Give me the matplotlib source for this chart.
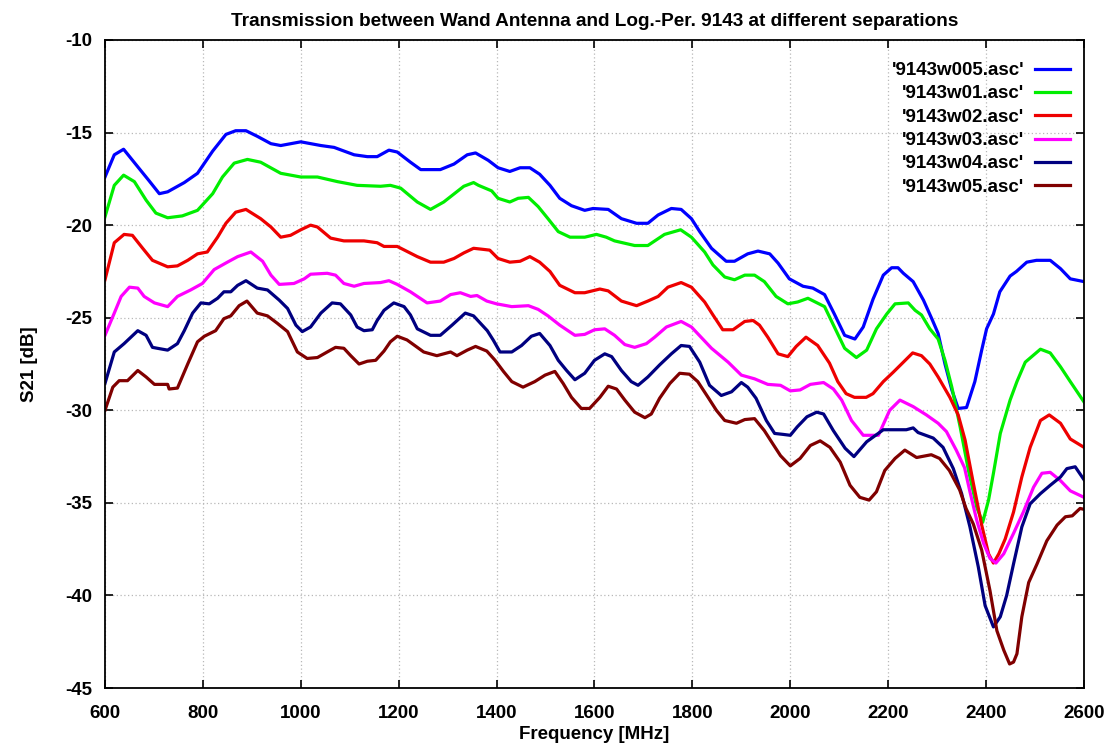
import matplotlib
matplotlib.use("Agg")
import matplotlib.pyplot as plt

# S21 traces, (frequency MHz, S21 dB)
w005 = [(600, -17.4), (619, -16.2), (638, -15.9), (667, -16.85), (690, -17.6), (711, -18.3),
        (728, -18.2), (762, -17.7), (789, -17.2), (820, -16.0), (847, -15.1), (867, -14.9),
        (888, -14.9), (911, -15.2), (939, -15.6), (959, -15.7), (1000, -15.5), (1041, -15.7),
        (1068, -15.8), (1109, -16.2), (1136, -16.3), (1156, -16.3), (1180, -15.95), (1197, -16.05),
        (1224, -16.6), (1245, -17.0), (1285, -17.0), (1313, -16.7), (1340, -16.2), (1357, -16.1),
        (1383, -16.5), (1403, -16.9), (1427, -17.1), (1448, -16.9), (1468, -16.9), (1488, -17.25),
        (1509, -17.85), (1529, -18.55), (1553, -18.95), (1580, -19.2), (1597, -19.1), (1628, -19.15),
        (1655, -19.65), (1686, -19.9), (1709, -19.9), (1730, -19.45), (1757, -19.1), (1777, -19.15),
        (1798, -19.65), (1815, -20.35), (1839, -21.25), (1869, -21.95), (1886, -21.95), (1913, -21.55),
        (1934, -21.4), (1958, -21.55), (1975, -22.05), (1998, -22.9), (2026, -23.3), (2046, -23.4),
        (2070, -23.75), (2090, -24.8), (2111, -25.95), (2132, -26.15), (2149, -25.5), (2169, -24.0),
        (2190, -22.7), (2207, -22.3), (2220, -22.3), (2231, -22.6), (2251, -23.05), (2272, -24.05),
        (2289, -25.05), (2302, -25.85), (2316, -27.5), (2330, -28.9), (2343, -29.9), (2360, -29.85),
        (2377, -28.45), (2391, -26.75), (2401, -25.6), (2415, -24.8), (2428, -23.6), (2449, -22.75),
        (2462, -22.5), (2483, -22.0), (2503, -21.9), (2531, -21.9), (2552, -22.35), (2572, -22.9),
        (2600, -23.05)]

w01 = [(600, -19.55), (619, -17.85), (638, -17.3), (660, -17.65), (684, -18.65), (704, -19.35),
       (728, -19.6), (758, -19.5), (789, -19.2), (820, -18.3), (840, -17.4), (864, -16.65),
       (891, -16.45), (918, -16.6), (959, -17.2), (1000, -17.4), (1034, -17.4), (1075, -17.65),
       (1115, -17.85), (1163, -17.9), (1183, -17.85), (1204, -18.0), (1238, -18.75), (1265, -19.15),
       (1292, -18.75), (1333, -17.9), (1353, -17.7), (1363, -17.85), (1390, -18.15), (1403, -18.55),
       (1427, -18.75), (1444, -18.55), (1465, -18.5), (1485, -19.0), (1505, -19.65), (1526, -20.35),
       (1550, -20.65), (1580, -20.65), (1604, -20.5), (1624, -20.65), (1641, -20.85), (1682, -21.1),
       (1709, -21.1), (1743, -20.5), (1776, -20.25), (1798, -20.65), (1825, -21.45), (1842, -22.15),
       (1866, -22.8), (1886, -22.95), (1907, -22.7), (1927, -22.7), (1947, -23.05), (1971, -23.85),
       (1995, -24.25), (2015, -24.15), (2036, -23.95), (2070, -24.4), (2090, -25.5), (2111, -26.65),
       (2135, -27.15), (2156, -26.75), (2176, -25.6), (2197, -24.8), (2214, -24.25), (2241, -24.2),
       (2255, -24.6), (2268, -24.85), (2285, -25.6), (2302, -26.15), (2316, -27.3), (2330, -28.75),
       (2347, -30.9), (2364, -33.25), (2381, -35.25), (2393, -36.05), (2405, -34.85), (2415, -33.4),
       (2429, -31.25), (2449, -29.45), (2463, -28.45), (2480, -27.4), (2511, -26.7), (2531, -26.9),
       (2552, -27.65), (2572, -28.45), (2600, -29.55)]

w02 = [(600, -22.95), (619, -20.95), (639, -20.5), (656, -20.55), (677, -21.25), (697, -21.9),
       (728, -22.25), (748, -22.2), (769, -21.9), (789, -21.55), (809, -21.45), (830, -20.65),
       (847, -19.9), (867, -19.3), (888, -19.15), (918, -19.65), (939, -20.1), (959, -20.65),
       (979, -20.55), (1000, -20.25), (1020, -20.0), (1034, -20.1), (1061, -20.7), (1088, -20.85),
       (1129, -20.85), (1156, -20.95), (1170, -21.15), (1197, -21.15), (1238, -21.7), (1265, -22.0),
       (1292, -22.0), (1313, -21.8), (1333, -21.5), (1353, -21.25), (1370, -21.3), (1386, -21.35),
       (1403, -21.8), (1427, -22.0), (1448, -21.95), (1468, -21.7), (1488, -22.0), (1509, -22.5),
       (1529, -23.25), (1560, -23.65), (1580, -23.65), (1611, -23.45), (1628, -23.55), (1655, -24.1),
       (1686, -24.35), (1709, -24.1), (1730, -23.85), (1750, -23.35), (1777, -23.1), (1798, -23.35),
       (1825, -24.15), (1842, -24.85), (1862, -25.65), (1883, -25.65), (1907, -25.2), (1924, -25.15),
       (1937, -25.4), (1954, -26.05), (1975, -26.95), (1995, -27.1), (2012, -26.55), (2032, -26.05),
       (2056, -26.5), (2080, -27.45), (2097, -28.45), (2114, -29.1), (2131, -29.3), (2155, -29.3),
       (2169, -29.1), (2190, -28.45), (2210, -27.95), (2231, -27.4), (2250, -26.9), (2268, -27.05),
       (2285, -27.5), (2302, -28.2), (2326, -29.3), (2343, -30.25), (2357, -31.6), (2374, -33.95),
       (2391, -36.2), (2405, -37.75), (2415, -38.25), (2426, -37.75), (2439, -36.95), (2456, -35.5),
       (2473, -33.6), (2490, -32.0), (2511, -30.55), (2529, -30.25), (2552, -30.7), (2572, -31.55),
       (2600, -32.0)]

w03 = [(600, -25.95), (619, -24.75), (633, -23.85), (650, -23.35), (667, -23.4), (680, -23.85),
       (701, -24.2), (728, -24.4), (748, -23.85), (775, -23.5), (799, -23.15), (823, -22.4),
       (850, -22.0), (871, -21.7), (898, -21.45), (922, -21.95), (939, -22.7), (956, -23.2),
       (986, -23.15), (1007, -22.9), (1020, -22.65), (1054, -22.6), (1071, -22.7), (1088, -23.15),
       (1109, -23.3), (1129, -23.15), (1163, -23.1), (1180, -23.0), (1197, -23.2), (1224, -23.6),
       (1258, -24.2), (1285, -24.1), (1306, -23.75), (1326, -23.65), (1347, -23.85), (1360, -23.8),
       (1380, -24.1), (1400, -24.25), (1431, -24.4), (1465, -24.35), (1485, -24.55), (1505, -24.9),
       (1529, -25.4), (1560, -25.95), (1580, -25.9), (1600, -25.65), (1621, -25.6), (1641, -25.95),
       (1662, -26.45), (1682, -26.6), (1706, -26.4), (1723, -26.05), (1747, -25.5), (1777, -25.2),
       (1798, -25.5), (1839, -26.65), (1873, -27.4), (1900, -28.1), (1927, -28.3), (1954, -28.6),
       (1980, -28.65), (2000, -28.95), (2020, -28.9), (2041, -28.6), (2068, -28.5), (2088, -28.85),
       (2105, -29.45), (2125, -30.55), (2149, -31.35), (2180, -31.35), (2203, -30.0), (2224, -29.45),
       (2251, -29.8), (2278, -30.25), (2302, -30.7), (2319, -31.15), (2339, -32.15), (2356, -33.1),
       (2367, -34.4), (2381, -35.95), (2395, -37.2), (2408, -38.0), (2420, -38.25), (2436, -37.75),
       (2456, -36.65), (2476, -35.5), (2497, -34.15), (2514, -33.4), (2531, -33.35), (2552, -33.8),
       (2572, -34.35), (2600, -34.7)]

w04 = [(600, -28.55), (619, -26.85), (639, -26.4), (667, -25.7), (684, -25.95), (697, -26.6),
       (707, -26.65), (728, -26.75), (748, -26.4), (762, -25.7), (779, -24.75), (796, -24.2),
       (813, -24.25), (830, -23.95), (843, -23.6), (857, -23.6), (871, -23.25), (888, -23.0),
       (911, -23.4), (932, -23.5), (956, -24.05), (973, -24.5), (990, -25.4), (1003, -25.75),
       (1020, -25.5), (1041, -24.75), (1064, -24.2), (1081, -24.25), (1102, -24.85), (1115, -25.5),
       (1129, -25.7), (1146, -25.65), (1156, -25.15), (1170, -24.6), (1190, -24.2), (1211, -24.4),
       (1224, -24.85), (1238, -25.6), (1265, -25.95), (1285, -25.95), (1309, -25.4), (1336, -24.75),
       (1353, -24.9), (1367, -25.3), (1381, -25.7), (1393, -26.2), (1407, -26.85), (1431, -26.85),
       (1451, -26.5), (1471, -26.0), (1488, -25.85), (1509, -26.5), (1526, -27.3), (1543, -27.85),
       (1560, -28.35), (1580, -28.0), (1600, -27.3), (1621, -26.95), (1635, -27.1), (1655, -27.85),
       (1675, -28.45), (1689, -28.65), (1709, -28.2), (1733, -27.55), (1757, -26.95), (1777, -26.5),
       (1794, -26.55), (1815, -27.4), (1835, -28.65), (1859, -29.2), (1880, -29.0), (1900, -28.5),
       (1913, -28.75), (1930, -29.35), (1951, -30.55), (1968, -31.25), (1985, -31.3), (2000, -31.35),
       (2014, -30.9), (2034, -30.35), (2054, -30.1), (2068, -30.2), (2088, -31.1), (2112, -32.05),
       (2130, -32.5), (2156, -31.7), (2190, -31.05), (2237, -31.05), (2251, -30.95), (2261, -31.2),
       (2292, -31.5), (2312, -32.0), (2333, -33.15), (2350, -34.5), (2367, -36.3), (2384, -38.45),
       (2398, -40.55), (2415, -41.7), (2429, -41.15), (2442, -40.0), (2456, -38.3), (2473, -36.3),
       (2490, -35.05), (2511, -34.5), (2531, -34.05), (2552, -33.6), (2565, -33.15), (2582, -33.05),
       (2600, -33.75)]

w05 = [(600, -30.0), (616, -28.75), (629, -28.4), (646, -28.4), (667, -27.85), (684, -28.2),
       (701, -28.6), (728, -28.6), (731, -28.85), (748, -28.8), (769, -27.5), (789, -26.3),
       (803, -26.0), (826, -25.7), (843, -25.05), (857, -24.9), (874, -24.35), (890, -24.1),
       (911, -24.75), (932, -24.9), (952, -25.3), (973, -25.75), (993, -26.85), (1013, -27.2),
       (1034, -27.15), (1054, -26.85), (1071, -26.6), (1088, -26.65), (1102, -27.05), (1119, -27.5),
       (1136, -27.35), (1153, -27.3), (1170, -26.8), (1183, -26.3), (1197, -26.0), (1217, -26.2),
       (1238, -26.6), (1251, -26.85), (1278, -27.05), (1306, -26.85), (1319, -27.05), (1340, -26.75),
       (1357, -26.55), (1380, -26.8), (1397, -27.3), (1414, -27.9), (1431, -28.45), (1454, -28.75),
       (1478, -28.45), (1499, -28.1), (1519, -27.9), (1536, -28.55), (1553, -29.3), (1573, -29.9),
       (1590, -29.9), (1611, -29.3), (1628, -28.7), (1645, -28.85), (1662, -29.45), (1682, -30.1),
       (1703, -30.4), (1716, -30.2), (1733, -29.35), (1754, -28.55), (1774, -28.0), (1794, -28.05),
       (1811, -28.45), (1832, -29.3), (1849, -30.0), (1866, -30.55), (1890, -30.7), (1907, -30.5),
       (1927, -30.45), (1947, -31.1), (1964, -31.8), (1980, -32.45), (2000, -33.0), (2020, -32.6),
       (2041, -31.9), (2061, -31.65), (2081, -32.0), (2102, -32.8), (2122, -34.05), (2142, -34.7),
       (2161, -34.85), (2176, -34.4), (2193, -33.25), (2214, -32.6), (2234, -32.15), (2258, -32.55),
       (2288, -32.4), (2305, -32.6), (2325, -33.25), (2346, -34.3), (2359, -35.3), (2374, -36.15),
       (2391, -37.55), (2408, -39.75), (2422, -41.9), (2436, -42.95), (2448, -43.7), (2456, -43.6),
       (2463, -43.15), (2473, -41.15), (2487, -39.3), (2504, -38.3), (2524, -37.05), (2545, -36.2),
       (2562, -35.75), (2576, -35.7), (2592, -35.3), (2600, -35.35)]

series = [
    ("'9143w005.asc'", w005, "#0000ff"),
    ("'9143w01.asc'", w01, "#00ee00"),
    ("'9143w02.asc'", w02, "#ee0000"),
    ("'9143w03.asc'", w03, "#ff00ff"),
    ("'9143w04.asc'", w04, "#000080"),
    ("'9143w05.asc'", w05, "#800000"),
]

xticks = list(range(600, 2601, 200))
yticks = list(range(-45, -9, 5))

plt.rcParams['font.family'] = ['Liberation Sans', 'DejaVu Sans']
plt.rcParams['font.weight'] = 'bold'
plt.rcParams['axes.unicode_minus'] = False

fig = plt.figure(figsize=(11.11, 7.49), dpi=100)
ax = fig.add_axes([0.0945, 0.0814, 0.8812, 0.8652])

for label, data, color in series:
    f = [p[0] for p in data]
    s = [p[1] for p in data]
    ax.plot(f, s, color=color, lw=2.3, label=label, solid_joinstyle='round')

ax.set_xlim(600, 2600)
ax.set_ylim(-45, -10)
ax.set_xticks(xticks)
ax.set_yticks(yticks)
ax.grid(True, color='#b8b8b8', linestyle=(0, (1, 2)), lw=0.9)
ax.tick_params(direction='in', length=6, width=1.2, top=True, right=True,
               labelsize=13.5, pad=9)
ax.tick_params(axis='x', pad=12)
for sp in ax.spines.values():
    sp.set_linewidth(1.3)

ax.set_title("Transmission between Wand Antenna and Log.-Per. 9143 at different separations",
             fontsize=13.7, fontweight='bold', pad=10)
ax.set_xlabel("Frequency [MHz]", fontsize=13.5, fontweight='bold', labelpad=3)
ax.set_ylabel("S21 [dB]", fontsize=13.5, fontweight='bold', labelpad=20)

leg = ax.legend(loc='upper right', bbox_to_anchor=(1.003, 0.992), frameon=False,
                markerfirst=False, fontsize=13.5, handlelength=1.85, labelspacing=0.33,
                handletextpad=0.6)
for t in leg.get_texts():
    t.set_ha('right')

fig.savefig("out.png", dpi=100)
